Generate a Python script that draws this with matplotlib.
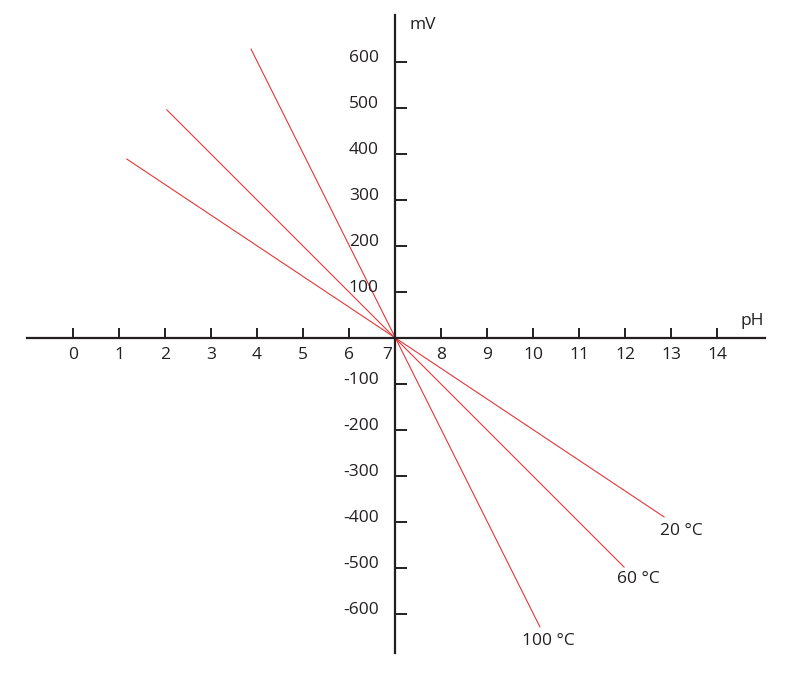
import numpy as np
import matplotlib.pyplot as plt

plt.rcParams['font.family'] = ['Open Sans', 'DejaVu Sans']

# pH ticks and mV ticks
ph_ticks = [0, 1, 2, 3, 4, 5, 6, 7, 8, 9, 10, 11, 12, 13, 14]
mv_ticks = [600, 500, 400, 300, 200, 100, -100, -200, -300, -400, -500, -600]

# line endpoints (pH, mV)
temps = ['20 °C', '60 °C', '100 °C']
ph_start = [1.17, 2.04, 3.87]
mv_start = [389, 496, 628]
ph_end = [12.85, 11.98, 10.15]
mv_end = [-389, -498, -628]
label_ph = [13.22, 12.28, 10.33]
label_mv = [-419, -524, -659]

ink = '#231f20'
red = '#e2373a'

fig = plt.figure(figsize=(7.91, 6.73), dpi=100)
ax = fig.add_axes([0, 0, 1, 1])
ax.set_xlim(-73 / 46, 718 / 46)
ax.set_ylim(-335 / 0.46, 338 / 0.46)

for s in ['top', 'right']:
    ax.spines[s].set_visible(False)
ax.spines['left'].set_position(('data', 7))
ax.spines['bottom'].set_position(('data', 0))
ax.spines['left'].set_bounds(-685, 702)
ax.spines['bottom'].set_bounds(-1.0, 15.04)
for s in ['left', 'bottom']:
    ax.spines[s].set_linewidth(1.6)
    ax.spines[s].set_color(ink)

ax.set_xticks(ph_ticks)
ax.set_yticks(mv_ticks)
ax.tick_params(axis='x', direction='in', length=7.2, width=1.4, color=ink, labelbottom=False)
ax.tick_params(axis='y', direction='in', length=8.6, width=1.4, color=ink, labelleft=False)

fs = 12.5
for p in ph_ticks:
    xp = p - 0.17 if p == 7 else p
    ax.text(xp, -38, str(p), ha='center', va='center', fontsize=fs, color=ink)
for m in mv_ticks:
    ax.text(6.65, m + 8, str(m), ha='right', va='center', fontsize=fs, color=ink)

ax.text(7.61, 680, 'mV', ha='center', va='center', fontsize=fs, color=ink)
ax.text(14.76, 37, 'pH', ha='center', va='center', fontsize=fs, color=ink)

for i in range(len(temps)):
    ax.plot([ph_start[i], ph_end[i]], [mv_start[i], mv_end[i]], color=red, lw=0.8)
    ax.text(label_ph[i], label_mv[i], temps[i], ha='center', va='center', fontsize=fs, color=ink)

fig.savefig('out.png', dpi=100)
